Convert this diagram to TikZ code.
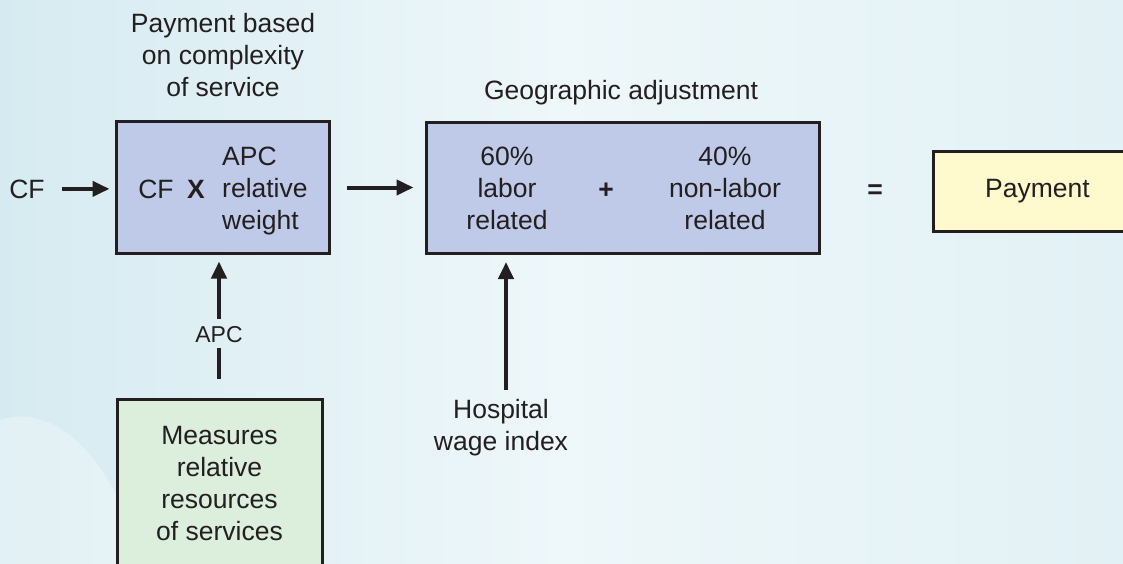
\documentclass[tikz,border=0pt]{standalone}
\usepackage{fontspec}
\setmainfont{Liberation Sans}
\usetikzlibrary{arrows.meta,positioning,calc}
\definecolor{inkgray}{RGB}{35,31,32}
\definecolor{boxblue}{RGB}{191,201,232}
\definecolor{boxgreen}{RGB}{220,238,220}
\definecolor{boxyellow}{RGB}{255,250,205}
\definecolor{bgleft}{RGB}{214,235,241}
\definecolor{bgmid}{RGB}{238,247,250}
\definecolor{bgright}{RGB}{226,241,245}

\begin{document}
\begin{tikzpicture}[x=1pt, y=-1pt,
    every node/.style={font=\fontsize{26.5}{32}\selectfont, text=inkgray, inner sep=0pt},
    stagebox/.style={draw=inkgray, line width=3pt},
    arr/.style={draw=inkgray, line width=4pt, -{Triangle[length=17pt,width=15pt]}},
    plain/.style={draw=inkgray, line width=4pt}]
    % Background
    \clip (0,0) rectangle (1123,564);
    \fill[left color=bgleft, right color=bgright, middle color=bgmid] (0,0) rectangle (1123,564);
    \fill[white, opacity=0.3] (0,420) .. controls (60,400) and (120,470) .. (140,564) -- (0,564) -- cycle;
    % Boxes
    \node[stagebox, fill=boxblue, minimum width=213pt, minimum height=131pt] (cfbox) at (222.5,187.5) {};
    \node[stagebox, fill=boxblue, minimum width=393pt, minimum height=131pt] (geobox) at (622.5,188) {};
    \node[stagebox, fill=boxyellow, minimum width=209pt, minimum height=79pt] (paybox) at (1037.5,191.5) {};
    \node[stagebox, fill=boxgreen, minimum width=205pt, minimum height=201pt] (rvubox) at (219.5,499.5) {};
    % Labels (multi-line nodes sit on their last baseline)
    \node[align=center, anchor=base] (complexity) at (223,97) {Payment based\\on complexity\\of service};
    \node[anchor=base] (geo) at (621,100) {Geographic adjustment};
    \node[anchor=base] (cfin) at (27,198) {CF};
    \node[anchor=base] (cfx) at (156,198) {CF};
    \node[anchor=base] (times) at (196,198) {\textbf{X}};
    \node[align=left, anchor=base west] (weight) at (222,229) {APC\\relative\\weight};
    \node[align=center, anchor=base] (labor) at (507,229) {60\%\\labor\\related};
    \node[anchor=base] (plus) at (606,198) {\textbf{+}};
    \node[align=center, anchor=base] (nonlabor) at (725,229) {40\%\\non-labor\\related};
    \node[anchor=base] (equals) at (875,198) {\textbf{=}};
    \node[anchor=base] (payment) at (1037.5,197) {Payment};
    \node[anchor=base, font=\fontsize{23}{28}\selectfont] (apclbl) at (219,342) {APC};
    \node[align=center, anchor=base] (measures) at (219.5,540) {Measures\\relative\\resources\\of services};
    \node[align=center, anchor=base] (wage) at (501,450) {Hospital\\wage index};
    % Connectors
    \draw[arr, shorten <=17pt, shorten >=5pt] (cfin) -- (cfin -| cfbox.west);
    \draw[arr, shorten <=16pt, shorten >=11pt] (cfbox.east) -- (cfbox.east -| geobox.west);
    \draw[arr, shorten <=7pt, shorten >=7pt] (apclbl.north) -- (apclbl.north |- cfbox.south);
    \draw[plain, shorten <=6pt, shorten >=19pt] (apclbl.south) -- (apclbl.south |- rvubox.north);
    \draw[arr, shorten <=9pt, shorten >=7pt] ([xshift=5pt]wage.north) -- ([xshift=5pt]wage.north |- geobox.south);
\end{tikzpicture}
\end{document}
